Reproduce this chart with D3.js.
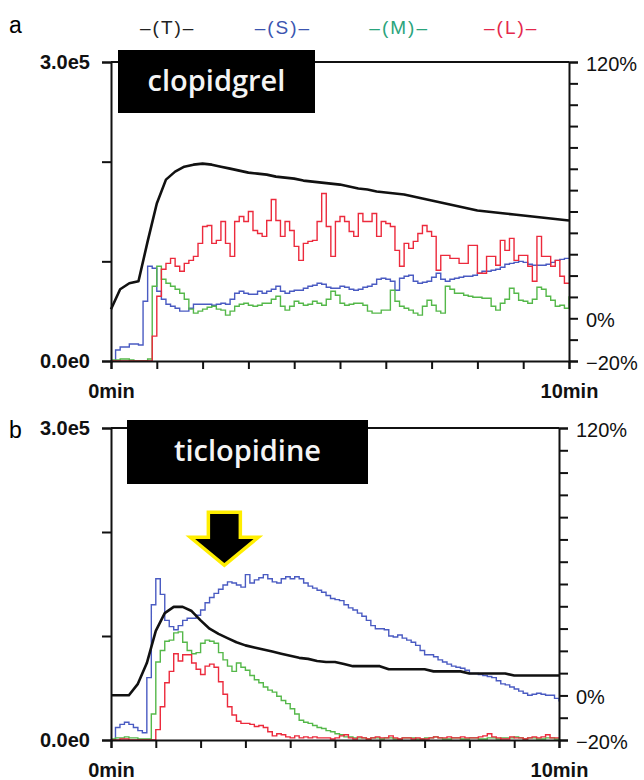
<!DOCTYPE html>
<html>
<head>
<meta charset="utf-8">
<script src="https://cdn.jsdelivr.net/npm/d3@7"></script>
<style>
  body { margin: 0; background: #fff; }
  svg text { font-family: "Liberation Sans", Arial, sans-serif; }
  svg text.drug { font-family: "Open Sans", sans-serif; font-weight: 600; }
  .tick line, .domain { stroke: #111; stroke-width: 2; }
</style>
</head>
<body>
<svg id="chart" width="644" height="780"></svg>
<script>
// time grids (minutes)
const timeFine = d3.range(0, 101).map(i => i / 10);   // 0.1 min steps
const timeCoarse = d3.range(0, 51).map(i => i / 5);   // 0.2 min steps

const minuteTicks = [0, 1, 2, 3, 4, 5, 6, 7, 8, 9, 10];
const countTicks = [0, 1, 2, 3];                      // x1e5
const pctTicks = [-20, -10, 0, 10, 20, 30, 40, 50, 60, 70, 80, 90, 100, 110, 120];

const legendNames = ['T', 'S', 'M', 'L'];

// panel a: clopidgrel (values x1e5)
const totalA = [
  0.52, 0.72, 0.78, 0.80, 1.20, 1.58, 1.82, 1.90, 1.95, 1.97,
  1.98, 1.97, 1.95, 1.93, 1.91, 1.89, 1.88, 1.87, 1.85, 1.84,
  1.83, 1.81, 1.80, 1.79, 1.78, 1.77, 1.75, 1.73, 1.72, 1.70,
  1.69, 1.68, 1.67, 1.65, 1.63, 1.61, 1.59, 1.57, 1.55, 1.53,
  1.51, 1.50, 1.49, 1.48, 1.47, 1.46, 1.45, 1.44, 1.43, 1.42,
  1.41
];
const smallA = [
  0, 0.11, 0.14, 0.14, 0.17, 0.17, 0.16, 0.60, 0.95, 0.93,
  0.70, 0.62, 0.57, 0.55, 0.53, 0.50, 0.50, 0.53, 0.57, 0.57,
  0.57, 0.57, 0.56, 0.57, 0.58, 0.57, 0.62, 0.68, 0.70, 0.68,
  0.67, 0.67, 0.70, 0.68, 0.70, 0.72, 0.75, 0.70, 0.68, 0.70,
  0.71, 0.71, 0.73, 0.75, 0.76, 0.78, 0.77, 0.74, 0.73, 0.73,
  0.75, 0.74, 0.72, 0.71, 0.72, 0.74, 0.75, 0.77, 0.82, 0.83,
  0.82, 0.80, 0.71, 0.83, 0.85, 0.86, 0.80, 0.78, 0.79, 0.80,
  0.84, 0.88, 0.82, 0.80, 0.82, 0.83, 0.84, 0.85, 0.85, 0.86,
  0.88, 0.90, 0.90, 0.91, 0.92, 0.94, 0.97, 0.98, 0.99, 1.00,
  0.99, 0.97, 0.96, 0.96, 0.96, 0.97, 0.99, 1.01, 1.02, 1.03,
  1.03
];
const mediumA = [
  0.01, 0.01, 0.02, 0.02, 0.01, 0, 0, 0, 0.02, 0.75,
  0.95, 0.82, 0.78, 0.75, 0.72, 0.68, 0.62, 0.52, 0.48, 0.50,
  0.52, 0.54, 0.55, 0.52, 0.51, 0.46, 0.50, 0.55, 0.57, 0.58,
  0.56, 0.55, 0.56, 0.58, 0.58, 0.62, 0.65, 0.55, 0.51, 0.55,
  0.60, 0.58, 0.56, 0.57, 0.60, 0.58, 0.56, 0.62, 0.70, 0.66,
  0.58, 0.56, 0.57, 0.58, 0.58, 0.56, 0.50, 0.48, 0.48, 0.51,
  0.51, 0.71, 0.60, 0.55, 0.53, 0.51, 0.48, 0.46, 0.55, 0.61,
  0.56, 0.50, 0.48, 0.75, 0.72, 0.68, 0.68, 0.66, 0.65, 0.64,
  0.64, 0.63, 0.63, 0.55, 0.51, 0.58, 0.62, 0.73, 0.68, 0.61,
  0.60, 0.58, 0.62, 0.74, 0.72, 0.65, 0.61, 0.55, 0.56, 0.53,
  0.65
];
const largeA = [
  0, 0, 0, 0, 0, 0, 0, 0, 0, 0.25,
  0.65, 0.92, 0.98, 1.03, 0.95, 0.90, 0.98, 1.01, 1.05, 1.18,
  1.35, 1.36, 1.18, 1.21, 1.40, 1.18, 1.05, 1.40, 1.45, 1.40,
  1.50, 1.31, 1.28, 1.25, 1.41, 1.62, 1.41, 1.25, 1.40, 1.31,
  1.15, 1.01, 1.18, 1.20, 1.21, 1.40, 1.68, 1.35, 1.05, 1.40,
  1.45, 1.40, 1.30, 1.25, 1.48, 1.40, 1.40, 1.48, 1.25, 1.40,
  1.38, 1.35, 1.11, 0.95, 1.18, 1.13, 1.20, 1.28, 1.36, 1.30,
  1.25, 0.91, 1.06, 1.06, 1.03, 1.03, 0.98, 0.98, 1.16, 1.16,
  0.88, 0.88, 1.05, 1.05, 0.96, 1.21, 1.11, 1.23, 1.01, 1.06,
  1.06, 0.95, 0.80, 1.25, 1.05, 1.05, 0.95, 1.01, 0.85, 0.78,
  0.78
];

// panel b: ticlopidine (values x1e5)
const totalB = [
  0.43, 0.43, 0.43, 0.54, 0.74, 1.05, 1.22, 1.28, 1.28, 1.24,
  1.15, 1.07, 1.02, 0.98, 0.94, 0.91, 0.89, 0.87, 0.85, 0.83,
  0.81, 0.79, 0.78, 0.76, 0.75, 0.75, 0.73, 0.71, 0.71, 0.71,
  0.71, 0.68, 0.68, 0.68, 0.68, 0.68, 0.66, 0.66, 0.66, 0.66,
  0.64, 0.64, 0.64, 0.64, 0.64, 0.62, 0.62, 0.62, 0.62, 0.62,
  0.62
];
const smallB = [
  0, 0.12, 0.15, 0.17, 0.15, 0.12, 0.09, 0.07, 0.60, 1.30,
  1.55, 1.40, 1.15, 1.09, 1.06, 1.10, 1.15, 1.17, 1.17, 1.20,
  1.25, 1.32, 1.37, 1.41, 1.45, 1.49, 1.52, 1.51, 1.49, 1.47,
  1.59, 1.51, 1.54, 1.56, 1.59, 1.55, 1.52, 1.51, 1.55, 1.57,
  1.55, 1.57, 1.55, 1.51, 1.48, 1.46, 1.44, 1.42, 1.39, 1.36,
  1.35, 1.34, 1.30, 1.27, 1.25, 1.22, 1.19, 1.15, 1.10, 1.07,
  1.07, 1.06, 1.00, 0.99, 1.01, 0.98, 0.96, 0.94, 0.91, 0.86,
  0.82, 0.82, 0.80, 0.77, 0.75, 0.73, 0.71, 0.70, 0.69, 0.67,
  0.64, 0.64, 0.63, 0.62, 0.61, 0.60, 0.57, 0.54, 0.53, 0.51,
  0.49, 0.47, 0.45, 0.43, 0.44, 0.45, 0.44, 0.43, 0.43, 0.40,
  0.37
];
const mediumB = [
  0.01, 0.02, 0.02, 0.03, 0.02, 0.02, 0.01, 0.01, 0.01, 0.25,
  0.75, 0.86, 0.95, 0.96, 1.03, 1.04, 0.94, 0.86, 0.83, 0.84,
  0.93, 0.96, 0.95, 0.93, 0.84, 0.77, 0.71, 0.66, 0.74, 0.70,
  0.67, 0.62, 0.58, 0.55, 0.51, 0.48, 0.46, 0.42, 0.38, 0.35,
  0.30, 0.25, 0.19, 0.17, 0.16, 0.14, 0.12, 0.11, 0.09, 0.08,
  0.06, 0.05, 0.03, 0.03, 0.02, 0.02, 0.02, 0.01, 0.02, 0.02,
  0.01, 0.02, 0.02, 0.01, 0.01, 0.02, 0.02, 0.02, 0.01, 0.01,
  0.02, 0.02, 0.03, 0.02, 0.01, 0.01, 0.02, 0.02, 0.01, 0.01,
  0.02, 0.02, 0.01, 0.01, 0.02, 0.02, 0.01, 0.02, 0.02, 0.02,
  0.03, 0.02, 0.01, 0.02, 0.02, 0.01, 0.01, 0.02, 0.02, 0.01,
  0.01
];
const largeB = [
  0, 0, 0.01, 0.01, 0, 0, 0, 0, 0, 0,
  0.10, 0.32, 0.55, 0.66, 0.83, 0.76, 0.82, 0.82, 0.74, 0.68,
  0.63, 0.71, 0.73, 0.70, 0.56, 0.44, 0.32, 0.24, 0.18, 0.16,
  0.16, 0.15, 0.13, 0.14, 0.12, 0.08, 0.04, 0.06, 0.05, 0.03,
  0.02, 0.04, 0.02, 0.03, 0.02, 0.03, 0.02, 0.02, 0.02, 0.01,
  0.02, 0.04, 0.05, 0.02, 0.01, 0.03, 0.02, 0.01, 0.02, 0.03,
  0.02, 0.02, 0.04, 0.02, 0.01, 0.02, 0.02, 0.01, 0.02, 0.01,
  0.01, 0.02, 0.03, 0.02, 0.02, 0.03, 0.02, 0.02, 0.03, 0.02,
  0.02, 0.02, 0.03, 0.04, 0.06, 0.03, 0.02, 0.01, 0.01, 0.03,
  0.02, 0.02, 0.01, 0.02, 0.03, 0.02, 0.03, 0.05, 0.02, 0.02,
  0.02
];

const lineColor = { T: '#111', S: '#4a5bc2', M: '#55b84a', L: '#ec2a3c' };
const legendColor = { T: '#222', S: '#3b55b0', M: '#2aa47c', L: '#e4284c' };

const svg = d3.select('#chart');

// panel letter + legend
svg.append('text').attr('x', 9).attr('y', 33)
    .attr('font-size', 23).text('a');

const legendX = d3.scalePoint().domain(legendNames).range([140, 484]);
svg.selectAll('.legend')
    .data(legendNames)
  .join('text')
    .attr('class', 'legend')
    .attr('x', d => legendX(d))
    .attr('y', 34)
    .attr('font-size', 19)
    .attr('letter-spacing', 2)
    .attr('fill', d => legendColor[d])
    .text(d => `\u2013(${d})\u2013`);

const panels = [
  { letter: null, drug: 'clopidgrel', left: 111, right: 569, top: 62, bottom: 361,
    box: { x: 118, y: 50, w: 197, h: 63 },
    T: totalA, S: smallA, M: mediumA, L: largeA },
  { letter: 'b', drug: 'ticlopidine', left: 111, right: 559, top: 428, bottom: 740,
    box: { x: 127, y: 420, w: 241, h: 64 },
    T: totalB, S: smallB, M: mediumB, L: largeB,
    arrow: { t: 2.53, v: 1.68 } }
];

panels.forEach(drawPanel);

function drawPanel(p) {
  const x = d3.scaleLinear().domain([0, 10]).range([p.left, p.right]);
  const y = d3.scaleLinear().domain([0, 3]).range([p.bottom, p.top]);
  const yPct = d3.scaleLinear().domain([-20, 120]).range([p.bottom, p.top]);

  const g = svg.append('g');

  // top frame line
  g.append('line')
      .attr('x1', p.left).attr('x2', p.right)
      .attr('y1', p.top).attr('y2', p.top)
      .attr('stroke', '#111').attr('stroke-width', 2);

  const stepLine = d3.line()
      .x((d, i) => x(timeFine[i]))
      .y(d => y(d))
      .curve(d3.curveStepAfter);

  const totalLine = d3.line()
      .x((d, i) => x(timeCoarse[i]))
      .y(d => y(d));

  ['S', 'M', 'L'].forEach(k => {
    g.append('path')
        .datum(p[k])
        .attr('fill', 'none')
        .attr('stroke', lineColor[k])
        .attr('stroke-width', 1.4)
        .attr('d', stepLine);
  });

  g.append('path')
      .datum(p.T)
      .attr('fill', 'none')
      .attr('stroke', lineColor.T)
      .attr('stroke-width', 2.6)
      .attr('stroke-linejoin', 'round')
      .attr('d', totalLine);

  // axes
  const xAxis = d3.axisBottom(x)
      .tickValues(minuteTicks)
      .tickSize(8)
      .tickPadding(15)
      .tickFormat(d => d === 0 ? '0min' : d === 10 ? '10min' : '');

  const yAxis = d3.axisLeft(y)
      .tickValues(countTicks)
      .tickSize(9)
      .tickPadding(12)
      .tickFormat(d => d === 0 ? '0.0e0' : d === 3 ? '3.0e5' : '');

  const pAxis = d3.axisRight(yPct)
      .tickValues(pctTicks)
      .tickSize(9)
      .tickPadding(8)
      .tickFormat(d => (d === 120 || d === 0 || d === -20) ? `${d < 0 ? '\u2212' + (-d) : d}%` : '');

  const xg = g.append('g')
      .attr('transform', `translate(0,${p.bottom})`)
      .call(xAxis);
  const yg = g.append('g')
      .attr('transform', `translate(${p.left},0)`)
      .call(yAxis);
  const pg = g.append('g')
      .attr('transform', `translate(${p.right},0)`)
      .call(pAxis);

  [xg, yg, pg].forEach(a => a.selectAll('.domain').attr('stroke', '#111').attr('stroke-width', 2));
  [xg, yg].forEach(a => a.selectAll('text')
      .attr('font-size', 20).attr('font-weight', 'bold').attr('fill', '#111'));
  pg.selectAll('text')
      .attr('font-size', 20).attr('fill', '#111').attr('dy', '0.4em');

  if (p.letter) {
    g.append('text').attr('x', 9).attr('y', p.top + 10)
        .attr('font-size', 23).text(p.letter);
  }

  // drug name box
  g.append('rect')
      .attr('x', p.box.x).attr('y', p.box.y)
      .attr('width', p.box.w).attr('height', p.box.h)
      .attr('fill', '#000');
  g.append('text')
      .attr('class', 'drug')
      .attr('x', p.box.x + p.box.w / 2)
      .attr('y', p.box.y + p.box.h / 2 + 9)
      .attr('text-anchor', 'middle')
      .attr('font-size', 29)
      .attr('fill', '#f4f4f4')
      .text(p.drug);

  // annotation arrow
  if (p.arrow) {
    const ax = x(p.arrow.t), ay = y(p.arrow.v);
    const shape = [[-16, -53], [16, -53], [16, -28], [34, -28], [0, 0], [-34, -28], [-16, -28]];
    g.append('polygon')
        .attr('points', shape.map(d => [ax + d[0], ay + d[1]].join(',')).join(' '))
        .attr('fill', '#000')
        .attr('stroke', '#ffee00')
        .attr('stroke-width', 3.5)
        .attr('stroke-linejoin', 'miter');
  }
}
</script>
</body>
</html>
